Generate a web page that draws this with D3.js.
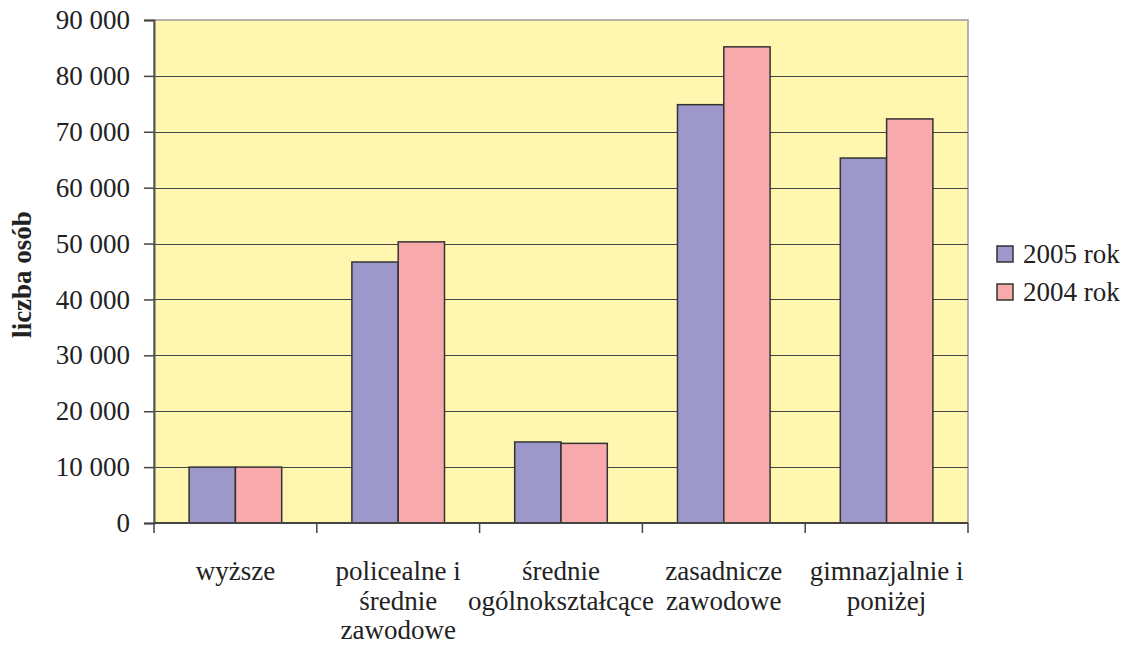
<!DOCTYPE html>
<html>
<head>
<meta charset="utf-8">
<script src="https://cdn.jsdelivr.net/npm/d3@7"></script>
<style>
  body { margin: 0; background: #fff; }
</style>
</head>
<body>
<svg id="chart"></svg>
<script>
const width = 1129;
const height = 649;
const margin = {top: 20, right: 161, bottom: 126, left: 154};
const serif = "'Liberation Serif', 'Times New Roman', serif";

const categories = ['wyższe', 'policealne i\nśrednie\nzawodowe', 'średnie\nogólnokształcące', 'zasadnicze\nzawodowe', 'gimnazjalnie i\nponiżej'];
const seriesNames = ['2005 rok', '2004 rok'];
const values2005 = [10000, 46700, 14500, 74850, 65300];
const values2004 = [10000, 50300, 14250, 85200, 72300];
const yTicks = [0, 10000, 20000, 30000, 40000, 50000, 60000, 70000, 80000, 90000];
const colors = ['#9e97c9', '#f7a9ac'];

const svg = d3.select('#chart')
    .attr('width', width)
    .attr('height', height)
    .attr('font-family', serif);

const x = d3.scaleBand().domain(categories).range([margin.left, width - margin.right]);
const xInner = d3.scaleBand().domain(seriesNames).range([0, x.bandwidth()]).paddingOuter(0.758);
const y = d3.scaleLinear().domain([0, 90000]).range([height - margin.bottom, margin.top]);

const fmt = d => d3.format(',')(d).replace(/,/g, ' ');

// plot area
svg.append('rect')
    .attr('x', margin.left)
    .attr('y', margin.top)
    .attr('width', width - margin.left - margin.right)
    .attr('height', height - margin.top - margin.bottom)
    .attr('fill', '#fff7b0')
    .attr('stroke', '#9a9a9a')
    .attr('stroke-width', 1.5);

// gridlines
svg.append('g')
    .selectAll('line')
    .data(yTicks.filter(d => d > 0 && d < 90000))
    .enter()
    .append('line')
    .attr('x1', margin.left)
    .attr('x2', width - margin.right)
    .attr('y1', d => Math.round(y(d)) + 0.5)
    .attr('y2', d => Math.round(y(d)) + 0.5)
    .attr('stroke', '#444')
    .attr('stroke-width', 1.2);

// bars
const data = categories.map((c, i) => ({cat: c, vals: [values2005[i], values2004[i]]}));
svg.append('g')
    .selectAll('g')
    .data(data)
    .enter()
    .append('g')
    .attr('transform', d => `translate(${x(d.cat)},0)`)
    .selectAll('rect')
    .data(d => d.vals.map((v, j) => ({name: seriesNames[j], v: v, j: j})))
    .enter()
    .append('rect')
    .attr('x', d => xInner(d.name))
    .attr('y', d => y(d.v))
    .attr('width', xInner.bandwidth())
    .attr('height', d => y(0) - y(d.v))
    .attr('fill', d => colors[d.j])
    .attr('stroke', '#333')
    .attr('stroke-width', 1.5);

// y axis
const yAxis = svg.append('g')
    .attr('transform', `translate(${margin.left},0)`)
    .call(d3.axisLeft(y).tickValues(yTicks).tickFormat(fmt).tickSizeOuter(0).tickSize(10).tickPadding(14))
    .attr('font-family', serif)
    .attr('font-size', 27);
yAxis.select('.domain').attr('stroke', '#555').attr('stroke-width', 2);
yAxis.selectAll('.tick line').attr('stroke', '#444').attr('stroke-width', 1.5);
yAxis.selectAll('.tick text').attr('fill', '#222');

// x axis (category boundaries)
const xAxis = svg.append('g')
    .attr('transform', `translate(0,${height - margin.bottom})`);
xAxis.append('line')
    .attr('x1', margin.left)
    .attr('x2', width - margin.right)
    .attr('stroke', '#444')
    .attr('stroke-width', 2);
const bounds = categories.map(c => x(c)).concat([x(categories[categories.length - 1]) + x.bandwidth()]);
xAxis.selectAll('.xtick')
    .data(bounds)
    .enter()
    .append('line')
    .attr('x1', d => d)
    .attr('x2', d => d)
    .attr('y1', 0)
    .attr('y2', 10)
    .attr('stroke', '#444')
    .attr('stroke-width', 1.5);

xAxis.selectAll('.xlabel')
    .data(categories)
    .enter()
    .append('text')
    .attr('text-anchor', 'middle')
    .attr('font-size', 27)
    .attr('fill', '#222')
    .attr('transform', d => `translate(${x(d) + x.bandwidth() / 2},57)`)
    .selectAll('tspan')
    .data(d => d.split('\n'))
    .enter()
    .append('tspan')
    .attr('x', 0)
    .attr('y', (d, i) => i * 29.5)
    .text(d => d);

// y axis title
svg.append('text')
    .attr('transform', `translate(31,${(margin.top + height - margin.bottom) / 2 + 3}) rotate(-90)`)
    .attr('text-anchor', 'middle')
    .attr('font-size', 27)
    .attr('font-weight', 'bold')
    .attr('fill', '#222')
    .text('liczba osób');

// legend
const legend = svg.append('g')
    .selectAll('g')
    .data(seriesNames)
    .enter()
    .append('g')
    .attr('transform', (d, i) => `translate(997,${246 + i * 38})`);
legend.append('rect')
    .attr('width', 16)
    .attr('height', 16)
    .attr('fill', (d, i) => colors[i])
    .attr('stroke', '#333')
    .attr('stroke-width', 1.5);
legend.append('text')
    .attr('x', 26)
    .attr('y', 17)
    .attr('font-size', 27)
    .attr('fill', '#222')
    .text(d => d);
</script>
</body>
</html>
